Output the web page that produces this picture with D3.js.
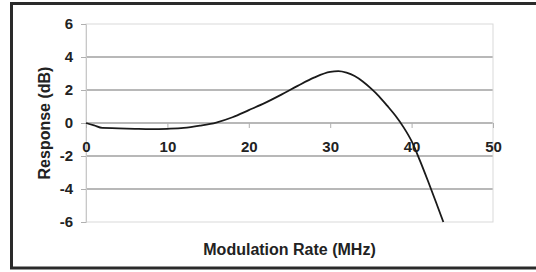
<!DOCTYPE html>
<html>
<head>
<meta charset="utf-8">
<script src="https://cdn.jsdelivr.net/npm/d3@7"></script>
<style>
  body { margin: 0; background: #fff; }
  svg { display: block; font-family: "Liberation Sans", Arial, sans-serif; font-weight: bold; }
</style>
</head>
<body>
<div id="chart"></div>
<script>
const freq = [0, 1, 2, 4, 6, 8, 10, 12, 14, 16, 18, 20, 22, 24, 26, 28, 30, 31, 32, 33, 34, 35, 36, 37, 38, 39, 40, 41, 42, 43, 43.9];
const response = [0, -0.15, -0.3, -0.32, -0.35, -0.37, -0.35, -0.3, -0.16, 0.03, 0.35, 0.78, 1.22, 1.72, 2.25, 2.75, 3.1, 3.14, 3.05, 2.85, 2.52, 2.1, 1.62, 1.05, 0.45, -0.25, -1.1, -2.25, -3.5, -4.8, -6];
const xTicks = [0, 10, 20, 30, 40, 50];
const yTicks = [-6, -4, -2, 0, 2, 4, 6];

const W = 536, H = 272;
const margin = { top: 24, right: 43, bottom: 50, left: 86 };
const width = W - margin.left - margin.right,
      height = H - margin.top - margin.bottom;

const svg = d3.select('#chart').append('svg')
  .attr('width', W)
  .attr('height', H);

// outer frame (right edge runs off the picture)
svg.append('rect')
  .attr('x', 11.5).attr('y', 3.5)
  .attr('width', 540).attr('height', 264.5)
  .attr('fill', 'none')
  .attr('stroke', '#2a2a2a')
  .attr('stroke-width', 3);

const g = svg.append('g')
  .attr('transform', `translate(${margin.left},${margin.top})`);

const x = d3.scaleLinear().domain([0, 50]).range([0, width]);
const y = d3.scaleLinear().domain([-6, 6]).range([height, 0]);

// gridlines
g.selectAll('.grid')
  .data(yTicks.filter(d => d !== 6 && d !== -6))
  .enter().append('line')
  .attr('x1', 0).attr('x2', width)
  .attr('y1', d => y(d)).attr('y2', d => y(d))
  .attr('stroke', '#a0a0a0')
  .attr('stroke-width', 1.5);

// plot area border
g.append('rect')
  .attr('x', 0).attr('y', 0)
  .attr('width', width).attr('height', height)
  .attr('fill', 'none')
  .attr('stroke', '#d9d9d9')
  .attr('stroke-width', 1);

const fontFam = '"Liberation Sans", Arial, sans-serif';

// y axis
const yAxis = g.append('g')
  .call(d3.axisLeft(y).tickValues(yTicks).tickSize(5).tickPadding(8));
yAxis.select('.domain').attr('stroke', '#c8c8c8');
yAxis.selectAll('.tick line').attr('stroke', '#b0b0b0');
yAxis.selectAll('text')
  .attr('font-size', 15).attr('font-weight', 'bold')
  .attr('font-family', fontFam)
  .attr('fill', '#222')
  .text(d => d < 0 ? '-' + Math.abs(d) : d);

// x axis sits on the zero line
const xAxis = g.append('g')
  .attr('transform', `translate(0,${y(0)})`)
  .call(d3.axisBottom(x).tickValues(xTicks).tickSize(5).tickPadding(13));
xAxis.select('.domain').remove();
xAxis.selectAll('.tick line').attr('stroke', '#b0b0b0');
xAxis.selectAll('text')
  .attr('font-size', 15).attr('font-weight', 'bold')
  .attr('font-family', fontFam)
  .attr('fill', '#222');

// response curve
const line = d3.line()
  .x((d, i) => x(freq[i]))
  .y(d => y(d))
  .curve(d3.curveMonotoneX);

g.append('path')
  .datum(response)
  .attr('d', line)
  .attr('fill', 'none')
  .attr('stroke', '#1a1a1a')
  .attr('stroke-width', 1.8);

// axis titles
svg.append('text')
  .attr('x', margin.left + width / 2)
  .attr('y', 255)
  .attr('text-anchor', 'middle')
  .attr('font-size', 16)
  .attr('fill', '#222')
  .text('Modulation Rate (MHz)');

svg.append('text')
  .attr('transform', `translate(50,${margin.top + height / 2}) rotate(-90)`)
  .attr('text-anchor', 'middle')
  .attr('font-size', 16)
  .attr('fill', '#222')
  .text('Response (dB)');
</script>
</body>
</html>
